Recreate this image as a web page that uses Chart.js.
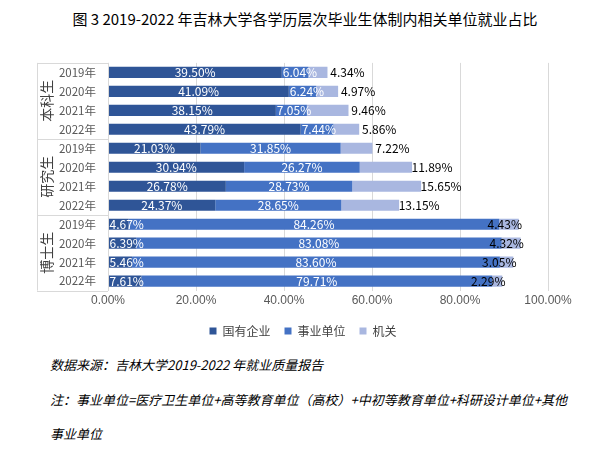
<!DOCTYPE html>
<html><head><meta charset="utf-8">
<script src="https://cdn.jsdelivr.net/npm/chart.js@4"></script>
<style>
body{margin:0;background:#fff;font-family:"Noto Sans CJK SC","Noto Sans",sans-serif;width:610px;height:452px;overflow:hidden;position:relative}
#t{position:absolute;top:8px;left:0;width:610px;text-align:center;font-size:15px;color:#000;font-weight:normal}
#w{position:absolute;top:52px;left:0;width:610px;height:295px}
.n{position:absolute;left:50px;font-size:13px;font-style:italic;color:#000}
</style></head><body>
<div id="t">图 3 2019-2022 年吉林大学各学历层次毕业生体制内相关单位就业占比</div>
<div id="w"><canvas id="c"></canvas></div>
<div class="n" style="top:355px">数据来源：吉林大学2019-2022 年就业质量报告</div>
<div class="n" style="top:390px">注：事业单位=医疗卫生单位+高等教育单位（高校）+中初等教育单位+科研设计单位+其他</div>
<div class="n" style="top:424px">事业单位</div>
<script>
const categories=["2019年","2020年","2021年","2022年","2019年","2020年","2021年","2022年","2019年","2020年","2021年","2022年"];
const groups=["本科生","研究生","博士生"];
const stateEnterprise=[39.50,41.09,38.15,43.79,21.03,30.94,26.78,24.37,4.67,6.39,5.46,7.61];
const publicInstitution=[6.04,6.24,7.05,7.44,31.85,26.27,28.73,28.65,84.26,83.08,83.60,79.71];
const government=[4.34,4.97,9.46,5.86,7.22,11.89,15.65,13.15,4.43,4.32,3.05,2.29];
const seriesNames=["国有企业","事业单位","机关"];
const xTicks=[0,20,40,60,80,100];
const groupPlugin={id:'g',afterDraw(ch){
 const c=ch.ctx,y=ch.scales.y,a=ch.chartArea;
 const step=y.getPixelForValue(1)-y.getPixelForValue(0);
 const x0=37,x1=a.left;
 c.save();c.strokeStyle='#d9d9d9';c.lineWidth=1;
 c.beginPath();c.moveTo(x1+.5,a.top);c.lineTo(x1+.5,a.bottom);c.stroke();
 for(let g=0;g<=3;g++){const yy=Math.round(y.getPixelForValue(g*4)-step/2)+.5;
  c.beginPath();c.moveTo(x0,yy);c.lineTo(x1,yy);c.stroke();}
 c.beginPath();c.moveTo(x0+.5,a.top);c.lineTo(x0+.5,a.bottom);c.stroke();
 c.fillStyle='#404040';c.font='14px "Noto Sans CJK SC"';c.textAlign='center';c.textBaseline='middle';
 groups.forEach((g,i)=>{const yy=y.getPixelForValue(i*4+1.5);c.save();c.translate(47,yy);c.rotate(-Math.PI/2);c.fillText(g,0,0);c.restore();});
 ch.data.datasets.forEach((ds,di)=>{const m=ch.getDatasetMeta(di);m.data.forEach((b,i)=>{
  const v=ds.data[i];let x=(b.x+b.base)/2;
  c.font='12px "Noto Sans CJK SC"';c.textAlign='center';
  if(di<2){c.fillStyle='#ffffff';if(b.x-b.base<36){c.textAlign='left';x=b.base+1;}}
  else{c.fillStyle='#000';x=b.x+(i<8?20:-14);}
  c.fillText(v.toFixed(2)+'%',x,b.y);});});
 c.restore();}};
new Chart(document.getElementById('c'),{type:'bar',
 data:{labels:categories,datasets:[
  {label:seriesNames[0],data:stateEnterprise,backgroundColor:'#2f5597'},
  {label:seriesNames[1],data:publicInstitution,backgroundColor:'#4472c4'},
  {label:seriesNames[2],data:government,backgroundColor:'#a9b7e0'}]},
 options:{indexAxis:'y',responsive:true,maintainAspectRatio:false,animation:false,
  layout:{padding:{left:58,right:62,top:8}},
  datasets:{bar:{categoryPercentage:0.9,barPercentage:0.65}},
  plugins:{legend:{position:'bottom',labels:{boxWidth:7,boxHeight:7,font:{size:12,family:'"Noto Sans CJK SC"'},color:'#404040',padding:14}},tooltip:{enabled:false}},
  scales:{
   x:{stacked:true,min:0,max:100,afterBuildTicks(s){s.ticks=xTicks.map(v=>({value:v}));},
      ticks:{callback:v=>v.toFixed(2)+'%',color:'#595959',font:{size:12}},grid:{color:'#d9d9d9',drawTicks:false},border:{display:false}},
   y:{stacked:true,afterFit(s){s.width=50;},ticks:{color:'#595959',padding:4,font:{size:11.5,family:'"Noto Sans CJK SC"'}},grid:{display:false},border:{display:false}}}}
 ,plugins:[groupPlugin]});
</script></body></html>
